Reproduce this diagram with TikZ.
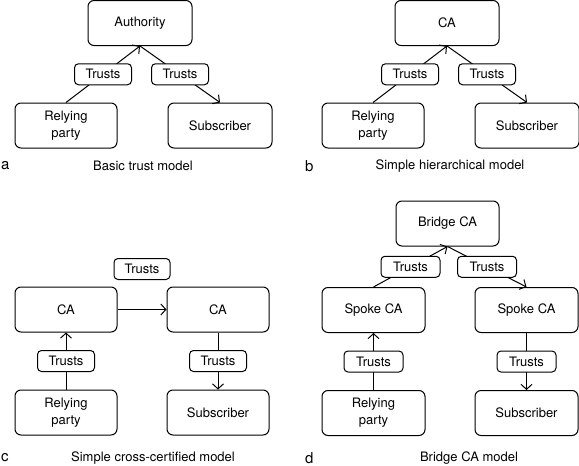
\documentclass[tikz,border=0pt]{standalone}
\usepackage{fontspec}
\setmainfont{TeX Gyre Heros}
\usetikzlibrary{arrows.meta}
\tikzset{
box/.style={draw,line width=1pt,rounded corners=6pt,minimum width=102pt,minimum height=45pt,inner sep=0pt,align=center},
trust label/.style={draw,fill=white,line width=1pt,rounded corners=4pt,minimum width=57pt,minimum height=21pt,inner sep=0pt},
arr/.style={-{Straight Barb[length=5pt,width=11pt]},line width=1pt},
conn/.style={line width=1pt},
panel letter/.style={anchor=west,inner sep=0pt,font=\fontsize{15}{17}\selectfont},
}
\tikzstyle{every node}=[font=\fontsize{13}{17}\selectfont]

\begin{document}
\begin{tikzpicture}[x=1pt,y=-1pt]
    \useasboundingbox (0,0) rectangle (579,466);
    % a: basic trust model
    \begin{scope}
        \node[box,minimum width=104pt] (authA) at (140,23) {Authority};
        \node[box] (relyA) at (66,125.5) {Relying\\party};
        \node[box,minimum width=104pt] (subA) at (220,125.5) {Subscriber};
        \draw[arr] (relyA.north) -- node[trust label] (trustA1) {Trusts} (authA.south);
        \draw[arr] (authA.south) -- node[trust label] (trustA2) {Trusts} (subA.north);
        \node[panel letter] (letA) at (1,166) {a};
        \node (capA) at (143,166) {Basic trust model};
    \end{scope}
    % b: simple hierarchical model
    \begin{scope}[shift={(307,0)}]
        \node[box,minimum width=104pt] (caB) at (140,23) {CA};
        \node[box] (relyB) at (66,125.5) {Relying\\party};
        \node[box,minimum width=104pt] (subB) at (220,125.5) {Subscriber};
        \draw[arr] (relyB.north) -- node[trust label] (trustB1) {Trusts} (caB.south);
        \draw[arr] (caB.south) -- node[trust label] (trustB2) {Trusts} (subB.north);
        \node[panel letter] (letB) at (-2,166) {b};
        \node (capB) at (143,166) {Simple hierarchical model};
    \end{scope}
    % c: simple cross-certified model
    \node[box] (caC1) at (66,309.5) {CA};
    \node[box] (caC2) at (218,309.5) {CA};
    \node[box] (relyC) at (66,412.5) {Relying\\party};
    \node[box] (subC) at (218,412.5) {Subscriber};
    \node[trust label,minimum width=56pt] (trustC0) at (142,269) {Trusts};
    \draw[arr] (caC1.east) -- (caC2.west);
    \draw[arr] (relyC.north) -- node[trust label] (trustC1) {Trusts} (caC1.south);
    \draw[arr] (caC2.south) -- node[trust label] (trustC2) {Trusts} (subC.north);
    \node[panel letter] (letC) at (1,458) {c};
    \node (capC) at (153,458) {Simple cross-certified model};
    % d: bridge CA model
    \node[box,minimum width=103pt] (bridgeD) at (447.5,223.5) {Bridge CA};
    \node[box,minimum width=103pt] (spokeD1) at (373.5,310) {Spoke CA};
    \node[box,minimum width=103pt] (spokeD2) at (526.5,310) {Spoke CA};
    \node[box,minimum width=103pt] (relyD) at (373.5,413) {Relying\\party};
    \node[box,minimum width=103pt] (subD) at (526.5,413) {Subscriber};
    \draw[arr] (spokeD1.north) -- node[trust label,minimum width=59pt] (trustD1) {Trusts} (bridgeD.south);
    \draw[arr] (bridgeD.south) -- node[trust label,minimum width=59pt] (trustD2) {Trusts} (spokeD2.north);
    \draw[arr] (relyD.north) -- node[trust label,minimum width=59pt] (trustD3) {Trusts} (spokeD1.south);
    \draw[arr] (spokeD2.south) -- node[trust label,minimum width=59pt] (trustD4) {Trusts} (subD.north);
    \node[panel letter] (letD) at (305,458) {d};
    \node (capD) at (469,458) {Bridge CA model};
\end{tikzpicture}
\end{document}
